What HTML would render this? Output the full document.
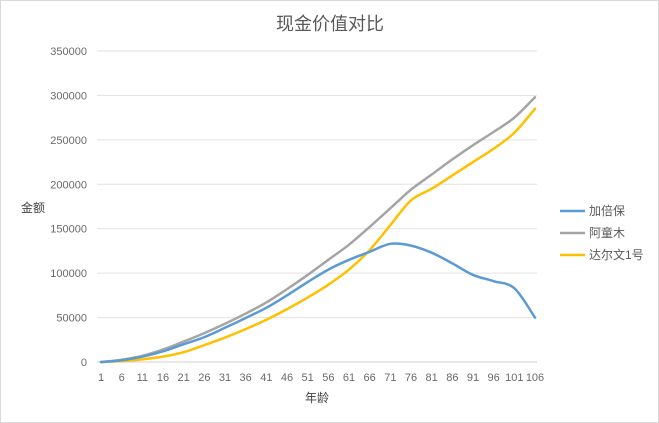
<!DOCTYPE html>
<html><head><meta charset="utf-8">
<style>
html,body{margin:0;padding:0;background:#fff;}
svg{display:block;font-family:"Liberation Sans","Noto Sans CJK SC",sans-serif;}
</style></head>
<body>
<svg id="chart" width="659" height="423" xmlns="http://www.w3.org/2000/svg">
<rect x="0.5" y="0.5" width="658" height="422" fill="#fff" stroke="#d9d9d9"/>
<text x="330" y="30" text-anchor="middle" font-size="18" fill="#595959">现金价值对比</text>
<text x="33" y="212" text-anchor="middle" font-size="12" fill="#404040">金额</text>
<text x="317" y="402" text-anchor="middle" font-size="12" fill="#404040">年龄</text>
<g id="grid"></g><g id="xt"></g><g id="series"></g><g id="legend"></g>
</svg>
<script>
const categories=[1,6,11,16,21,26,31,36,41,46,51,56,61,66,71,76,81,86,91,96,101,106];
const yTicks=[0,50000,100000,150000,200000,250000,300000,350000];
const seriesNames=["加倍保","阿童木","达尔文1号"];
const jiabeibao=[0,2000,6000,12000,20000,28000,38500,49500,61000,75000,90000,104000,115000,124000,133000,131000,123000,111000,98000,91000,83000,50000];
const atongmu=[0,2500,7000,14000,23000,32500,43000,54500,67000,82000,98000,115000,132000,152000,173000,194000,211000,228000,244000,259000,275000,298000];
const darwin=[0,1000,3000,6000,11000,19000,27500,37000,47500,59500,72500,87000,104000,126000,154000,182000,195000,210000,225000,240000,258000,285000];
const colors=["#5b9bd5","#a5a5a5","#ffc000"];
const NS="http://www.w3.org/2000/svg";
const X0=101,X1=535,Y0=362,Y1=51,XL=97,XR=537;
const xs=v=>X0+(v-1)/(105)*(X1-X0);
const ys=v=>Y0-v/350000*(Y0-Y1);
const grid=document.getElementById('grid');
yTicks.forEach(t=>{
 const l=document.createElementNS(NS,'line');
 l.setAttribute('x1',XL);l.setAttribute('x2',XR);l.setAttribute('y1',ys(t));l.setAttribute('y2',ys(t));
 l.setAttribute('stroke',t===0?'#d0d0d0':'#e2e2e2');l.setAttribute('stroke-width','1');
 
 
 grid.appendChild(l);
 const tx=document.createElementNS(NS,'text');
 tx.setAttribute('x',87);tx.setAttribute('y',ys(t)+4);tx.setAttribute('text-anchor','end');
 tx.setAttribute('font-size','11');tx.setAttribute('fill','#6a6a6a');tx.textContent=t;
 
 
 grid.appendChild(tx);
});
const xt=document.getElementById('xt');
categories.forEach(c=>{
 const tx=document.createElementNS(NS,'text');
 tx.setAttribute('x',xs(c));tx.setAttribute('y',381);tx.setAttribute('text-anchor','middle');
 tx.setAttribute('font-size','11');tx.setAttribute('fill','#6a6a6a');tx.textContent=c;
 
 
 xt.appendChild(tx);
});
function smooth(pts){
 let d='M'+pts[0][0]+','+pts[0][1];
 for(let i=0;i<pts.length-1;i++){
  const p0=pts[i-1]||pts[i],p1=pts[i],p2=pts[i+1],p3=pts[i+2]||p2;
  const c1=[p1[0]+(p2[0]-p0[0])/6,p1[1]+(p2[1]-p0[1])/6];
  const c2=[p2[0]-(p3[0]-p1[0])/6,p2[1]-(p3[1]-p1[1])/6];
  d+=' C'+c1[0]+','+c1[1]+' '+c2[0]+','+c2[1]+' '+p2[0]+','+p2[1];
 }
 return d;
}
const sg=document.getElementById('series');
const data=[jiabeibao,atongmu,darwin];
const keys=['line-jiabeibao','line-atongmu','line-darwin'];
[1,2,0].forEach(i=>{
 const p=document.createElementNS(NS,'path');
 p.setAttribute('d',smooth(categories.map((c,j)=>[xs(c),ys(data[i][j])])));
 p.setAttribute('fill','none');p.setAttribute('stroke',colors[i]);p.setAttribute('stroke-width','2.5');
 p.setAttribute('stroke-linecap','round');
 
 
 sg.appendChild(p);
});
const lg=document.getElementById('legend');
seriesNames.forEach((n,i)=>{
 const y=211+i*22;
 const g=document.createElementNS(NS,'g');
 
 
 const l=document.createElementNS(NS,'line');
 l.setAttribute('x1',560);l.setAttribute('x2',585);l.setAttribute('y1',y);l.setAttribute('y2',y);
 l.setAttribute('stroke',colors[i]);l.setAttribute('stroke-width','2.5');
 g.appendChild(l);
 const t=document.createElementNS(NS,'text');
 t.setAttribute('x',589);t.setAttribute('y',y+4);t.setAttribute('font-size','12');t.setAttribute('fill','#595959');
 t.textContent=n;
 g.appendChild(t);
 lg.appendChild(g);
});
</script>
</body></html>
